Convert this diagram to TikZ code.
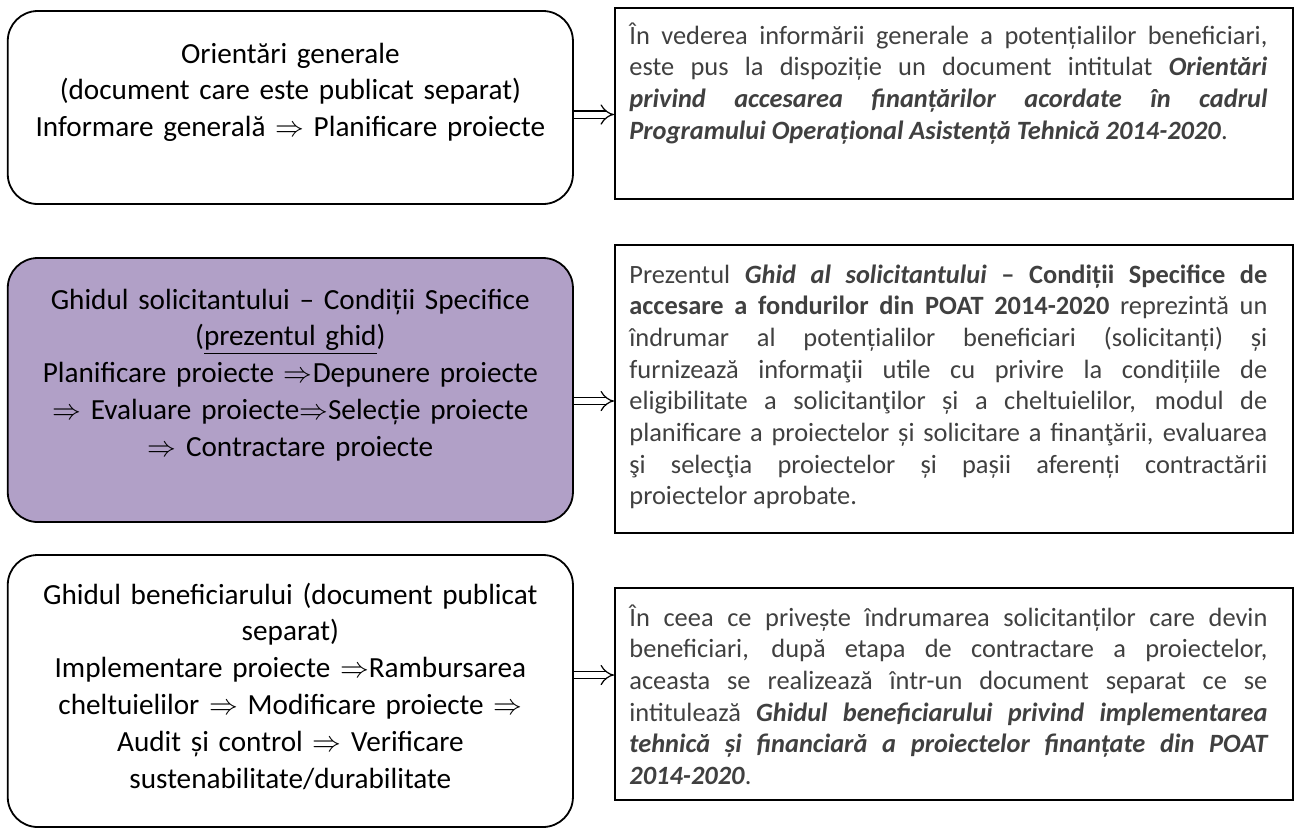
\documentclass[tikz,border=0pt]{standalone}
\usepackage{fontspec}
\setmainfont{Carlito}
\usetikzlibrary{positioning,arrows.meta}
\definecolor{lilac}{HTML}{B1A0C7}
\definecolor{bodygray}{HTML}{404040}
\hyphenpenalty=10000
\exhyphenpenalty=10000
\tikzset{
  stagebox/.style={draw, line width=0.9pt, rounded corners=15pt, minimum width=282.6pt, inner sep=0pt},
  stagetext/.style={anchor=base, align=center, text width=278pt, inner sep=0pt, font=\fontsize{14.6}{18.4}\selectfont},
  infobox/.style={draw, line width=1pt, minimum width=339pt, inner sep=0pt},
  infotext/.style={anchor=base west, align=justify, text width=319pt, inner sep=0pt, text=bodygray,
    font=\fontsize{13.2}{15.85}\selectfont},
  link/.style={double, double distance=3pt, line width=0.6pt, -{Implies}}
}
\begin{document}
\begin{tikzpicture}[x=0.5pt,y=-0.5pt]
\useasboundingbox (0,0) rectangle (1295,832);
% left column
\node[stagebox, minimum height=96.5pt] (boxA) at (290.35,107.5) {};
\node[stagebox, minimum height=132pt, fill=lilac] (boxB) at (290.35,390) {};
\node[stagebox, minimum height=136pt] (boxC) at (290.35,691) {};
\node[stagetext] (textA) at ([yshift=-26.5pt]boxA.north) {Orientări generale\\(document care este publicat separat)\\Informare generală $\Rightarrow$ Planificare proiecte};
\node[stagetext] (textB) at ([yshift=-26pt]boxB.north) {Ghidul solicitantului – Condiții Specifice\\(\underline{prezentul ghid})\\Planificare proiecte $\Rightarrow$Depunere proiecte\\$\Rightarrow$ Evaluare proiecte$\Rightarrow$Selecție proiecte\\$\Rightarrow$ Contractare proiecte};
\node[stagetext] (textC) at ([yshift=-25pt]boxC.north) {Ghidul beneficiarului (document publicat\\separat)\\Implementare proiecte $\Rightarrow$Rambursarea\\cheltuielilor $\Rightarrow$ Modificare proiecte $\Rightarrow$\\Audit și control $\Rightarrow$ Verificare\\sustenabilitate/durabilitate};
% right column
\node[infobox, minimum height=95.5pt] (infoA) at (954,103.5) {};
\node[infobox, minimum height=144pt] (infoB) at (954,389) {};
\node[infobox, minimum height=106pt] (infoC) at (954,694) {};
\node[infotext] (descA) at ([xshift=7.5pt,yshift=-18.5pt]infoA.north west) {În vederea informării generale a potențialilor beneficiari,\linebreak este pus la dispoziție un document intitulat \textbf{\textit{Orientări\linebreak privind accesarea finanțărilor acordate în cadrul\linebreak Programului Operațional Asistență Tehnică 2014-2020}}.};
\node[infotext] (descB) at ([xshift=7.5pt,yshift=-19.5pt]infoB.north west) {Prezentul \textbf{\textit{Ghid al solicitantului}} \textbf{– Condiții Specifice de\linebreak accesare a fondurilor din POAT 2014-2020} reprezintă un\linebreak îndrumar al potențialilor beneficiari (solicitanți) și\linebreak furnizează informaţii utile cu privire la condițiile de\linebreak eligibilitate a solicitanţilor și a cheltuielilor, modul de\linebreak planificare a proiectelor și solicitare a finanţării, evaluarea\linebreak şi selecţia proiectelor și pașii aferenți contractării\linebreak proiectelor aprobate.};
\node[infotext] (descC) at ([xshift=7.5pt,yshift=-19.5pt]infoC.north west) {În ceea ce privește îndrumarea solicitanților care devin\linebreak beneficiari, după etapa de contractare a proiectelor,\linebreak aceasta se realizează într-un document separat ce se\linebreak intitulează \textbf{\textit{Ghidul beneficiarului privind implementarea\linebreak tehnică și financiară a proiectelor finanțate din POAT\linebreak 2014-2020}}.};
% arrows
\draw[link] ([yshift=-3.5pt]boxA.east) -- ([yshift=-3.5pt]boxA.east -| infoA.west);
\draw[link] ([yshift=-5.5pt]boxB.east) -- ([yshift=-5.5pt]boxB.east -| infoB.west);
\draw[link] ([yshift=8pt]boxC.east) -- ([yshift=8pt]boxC.east -| infoC.west);
\end{tikzpicture}
\end{document}
